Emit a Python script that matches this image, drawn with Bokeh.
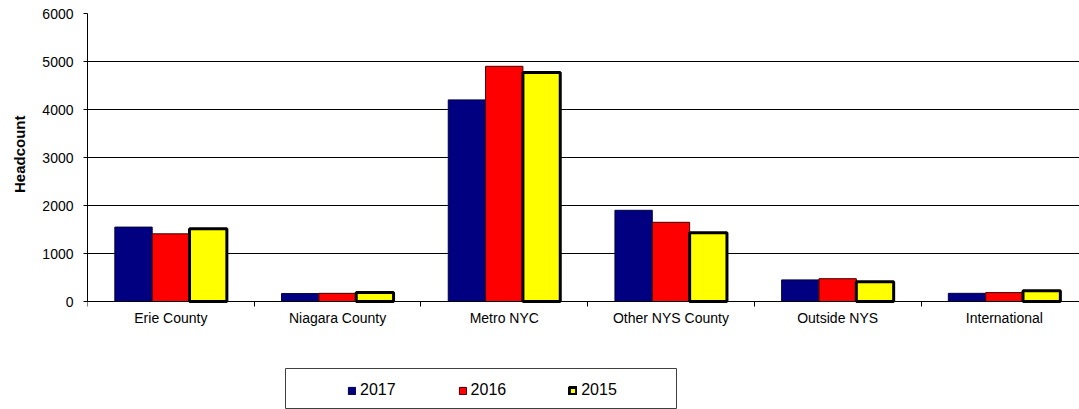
import numpy as np
from bokeh.plotting import figure
from bokeh.models import ColumnDataSource, Range1d, FixedTicker, Legend, LegendItem, BoxAnnotation
from bokeh.transform import dodge
from bokeh.embed import file_html
from bokeh.resources import INLINE

categories = ["Erie County", "Niagara County", "Metro NYC", "Other NYS County", "Outside NYS", "International"]
years = ["2017", "2016", "2015"]
v2017 = [1550, 165, 4200, 1900, 450, 170]
v2016 = [1410, 170, 4900, 1650, 475, 185]
v2015 = [1515, 190, 4770, 1430, 410, 225]
y_ticks = [0, 1000, 2000, 3000, 4000, 5000, 6000]

FONT = "Liberation Sans"
W, H = 1079, 409
LEFT, TOP = 87, 13
CAT_PX = 166.7          # pixels per category
Y_PX = 288.0            # pixels for 0..6000
xmax = (W - LEFT) / CAT_PX
ymin = -((H - TOP) - Y_PX) / Y_PX * 6000

def px_to_x(px):
    return (px - LEFT) / CAT_PX

def py_to_y(py):
    return (TOP + Y_PX - py) / Y_PX * 6000

xc = np.arange(len(categories)) + 0.5
src = ColumnDataSource(dict(x=xc, v2017=v2017, v2016=v2016, v2015=v2015))

p = figure(width=W, height=H, output_backend="svg", toolbar_location=None,
           x_range=Range1d(0, xmax), y_range=Range1d(ymin, 6000),
           min_border_left=LEFT, min_border_right=0, min_border_top=TOP, min_border_bottom=0)
p.outline_line_color = None
p.background_fill_color = "white"
p.border_fill_color = "white"

# vertical axis title as a left-side title
p.title.text = "Headcount"
p.title_location = "left"
p.title.align = "right"
p.title.vertical_align = "top"
p.title.offset = 102
p.title.text_font = FONT
p.title.text_font_size = "15px"
p.title.text_font_style = "bold"
p.title.text_color = "black"
p.title.standoff = 20

bw = 0.224
r1 = p.vbar(x=dodge("x", -bw, range=p.x_range), top="v2017", width=bw, source=src,
            fill_color="#000080", line_color="#000040", line_width=1)
r2 = p.vbar(x=dodge("x", 0, range=p.x_range), top="v2016", width=bw, source=src,
            fill_color="#FF0000", line_color="#400000", line_width=1)
r3 = p.vbar(x=dodge("x", bw, range=p.x_range), top="v2015", width=bw, source=src,
            fill_color="#FFFF00", line_color="black", line_width=3)

# x axis: labels at centers, ticks at boundaries, drawn at y = 0
xa = p.xaxis[0]
xa.fixed_location = 0
xa.ticker = FixedTicker(ticks=list(xc), minor_ticks=list(np.arange(len(categories) + 1)))
xa.major_label_overrides = {float(x): c for x, c in zip(xc, categories)}
xa.major_tick_out = 0
xa.major_tick_in = 0
xa.minor_tick_out = 5
xa.minor_tick_in = 0
xa.minor_tick_line_color = "black"
xa.axis_line_color = "black"
xa.major_label_text_font = FONT
xa.major_label_text_font_size = "14px"
xa.major_label_text_color = "black"
xa.major_label_standoff = 3

ya = p.yaxis[0]
ya.bounds = (0, 6000)
ya.ticker = FixedTicker(ticks=y_ticks, minor_ticks=[])
ya.major_tick_out = 4
ya.major_tick_in = 0
ya.minor_tick_out = 0
ya.axis_line_color = "black"
ya.major_tick_line_color = "black"
ya.major_label_text_font = FONT
ya.major_label_text_font_size = "14px"
ya.major_label_text_color = "black"
ya.major_label_standoff = 10

p.xgrid.grid_line_color = None
p.ygrid.ticker = FixedTicker(ticks=y_ticks)
p.ygrid.grid_line_color = "black"
p.ygrid.grid_line_width = 1

# legend frame
box = BoxAnnotation(left=px_to_x(285), right=px_to_x(676), top=py_to_y(368), bottom=py_to_y(408),
                    fill_color="white", fill_alpha=1, line_color="#404040", line_alpha=1,
                    line_width=1)
p.add_layout(box)

legend = Legend(items=[LegendItem(label=years[0], renderers=[r1]),
                       LegendItem(label=years[1], renderers=[r2]),
                       LegendItem(label=years[2], renderers=[r3])],
                orientation="horizontal", location=(260, 10),
                glyph_width=9, glyph_height=9, label_standoff=4, spacing=62,
                padding=0, margin=0,
                label_text_font=FONT, label_text_font_size="16px", label_text_color="black",
                border_line_color=None, background_fill_alpha=0)
p.add_layout(legend, "center")

open("out.html", "w").write(file_html(p, INLINE))
